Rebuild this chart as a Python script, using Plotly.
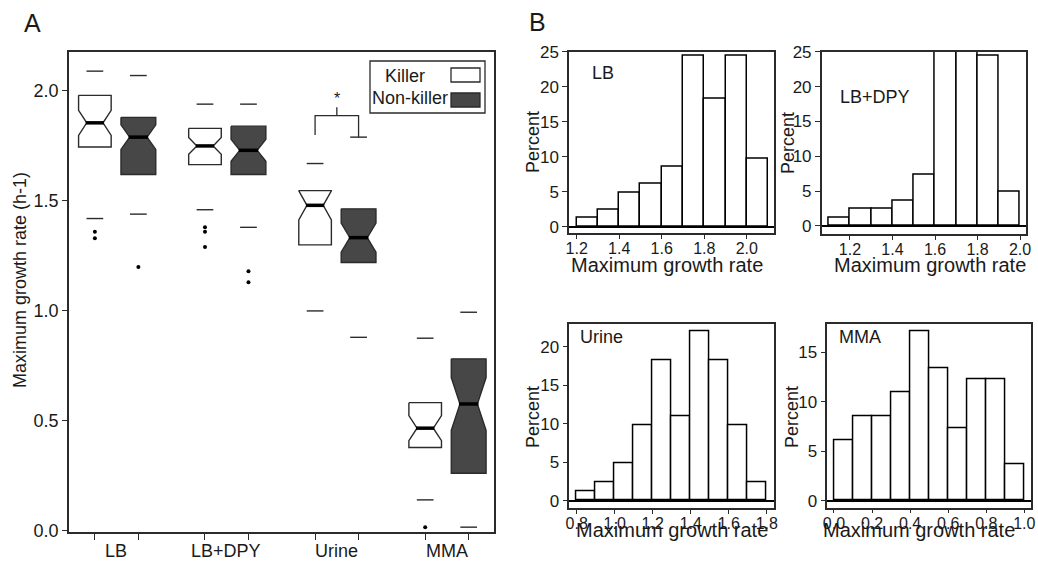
import plotly.graph_objects as go

# ---------------- Panel A data (notched box plots) ----------------
conditions = ["LB", "LB+DPY", "Urine", "MMA"]

killer_upper = [2.09, 1.94, 1.67, 0.876]
killer_q3 = [1.98, 1.83, 1.547, 0.583]
killer_median = [1.855, 1.75, 1.48, 0.467]
killer_q1 = [1.745, 1.665, 1.30, 0.379]
killer_lower = [1.42, 1.46, 1.00, 0.141]
killer_notch = [0.057, 0.038, 0.066, 0.057]
killer_outliers = [[1.36, 1.33], [1.38, 1.36, 1.29], [], [0.017]]

nonkiller_upper = [2.07, 1.94, 1.79, 0.994]
nonkiller_q3 = [1.88, 1.84, 1.464, 0.782]
nonkiller_median = [1.79, 1.73, 1.333, 0.577]
nonkiller_q1 = [1.62, 1.62, 1.22, 0.262]
nonkiller_lower = [1.44, 1.38, 0.88, 0.017]
nonkiller_notch = [0.056, 0.05, 0.066, 0.12]
nonkiller_outliers = [[1.20], [1.18, 1.13], [], []]

# significance bracket (Urine)
bracket_group = "Urine"
bracket_top = 1.888
bracket_left_end = 1.80
bracket_right_end = 1.79
bracket_tick_top = 1.926
bracket_star_y = 1.965

# ---------------- Panel B data (histograms, percent) ----------------
lb_bins = [1.2, 1.3, 1.4, 1.5, 1.6, 1.7, 1.8, 1.9, 2.0]
lb_pct = [1.22, 2.44, 4.88, 6.10, 8.54, 24.39, 18.29, 24.39, 9.76]

lbdpy_bins = [1.1, 1.2, 1.3, 1.4, 1.5, 1.6, 1.7, 1.8, 1.9]
lbdpy_pct = [1.22, 2.44, 2.44, 3.66, 7.32, 26.83, 26.83, 24.39, 4.88]

urine_bins = [0.8, 0.9, 1.0, 1.1, 1.2, 1.3, 1.4, 1.5, 1.6, 1.7]
urine_pct = [1.22, 2.44, 4.88, 9.76, 18.29, 10.98, 21.95, 18.29, 9.76, 2.44]

mma_bins = [0.0, 0.1, 0.2, 0.3, 0.4, 0.5, 0.6, 0.7, 0.8, 0.9]
mma_pct = [6.10, 8.54, 8.54, 10.98, 17.07, 13.41, 7.32, 12.20, 12.20, 3.66]
bin_width = 0.1

FONT = "Liberation Sans, Arial, sans-serif"
TXT = "#1a1a1a"
LINE = "#2b2b2b"
DARK = "#474747"

fig = go.Figure()

K_OFF, NK_OFF = -0.195, 0.2
K_HW, NK_HW = 0.148, 0.158


def notched_box(c, hw, q1, med, q3, nspan, fill):
    nhi = min(med + nspan, q3)
    nlo = max(med - nspan, q1)
    wn = hw * 0.5
    xs = [c - hw, c + hw, c + hw, c + wn, c + hw, c + hw, c - hw, c - hw, c - wn, c - hw, c - hw]
    ys = [q3, q3, nhi, med, nlo, q1, q1, nlo, med, nhi, q3]
    fig.add_trace(go.Scatter(x=xs, y=ys, mode="lines", fill="toself", fillcolor=fill,
                             line=dict(color=LINE, width=1.4), hoverinfo="skip",
                             showlegend=False, xaxis="x", yaxis="y"))
    fig.add_trace(go.Scatter(x=[c - wn * 1.12, c + wn * 1.12], y=[med, med], mode="lines",
                             line=dict(color="black", width=3.5), hoverinfo="skip",
                             showlegend=False, xaxis="x", yaxis="y"))


cap_x, cap_y, out_x, out_y = [], [], [], []
tickpos = []
groups = [
    (K_OFF, K_HW, "white", killer_upper, killer_q3, killer_median, killer_q1, killer_lower,
     killer_notch, killer_outliers),
    (NK_OFF, NK_HW, DARK, nonkiller_upper, nonkiller_q3, nonkiller_median, nonkiller_q1,
     nonkiller_lower, nonkiller_notch, nonkiller_outliers),
]
for i, cond in enumerate(conditions):
    for off, hw, fill, up, q3, med, q1, lo, nt, outs in groups:
        c = i + 1 + off
        tickpos.append(c)
        notched_box(c, hw, q1[i], med[i], q3[i], nt[i], fill)
        cw = 0.076
        for v in (up[i], lo[i]):
            cap_x += [c - cw, c + cw, None]
            cap_y += [v, v, None]
        for v in outs[i]:
            out_x.append(c)
            out_y.append(v)

fig.add_trace(go.Scatter(x=cap_x, y=cap_y, mode="lines", line=dict(color=LINE, width=1.4),
                         hoverinfo="skip", showlegend=False, xaxis="x", yaxis="y"))
fig.add_trace(go.Scatter(x=out_x, y=out_y, mode="markers", marker=dict(color="black", size=4),
                         hoverinfo="skip", showlegend=False, xaxis="x", yaxis="y"))

# bracket
bi = conditions.index(bracket_group) + 1
bl, br = bi + K_OFF, bi + NK_OFF
bm = (bl + br) / 2
fig.add_trace(go.Scatter(x=[bl, bl, br, br, None, bm, bm],
                         y=[bracket_left_end, bracket_top, bracket_top, bracket_right_end, None,
                            bracket_top, bracket_tick_top],
                         mode="lines", line=dict(color=LINE, width=1.3), hoverinfo="skip",
                         showlegend=False, xaxis="x", yaxis="y"))


def W(px):
    return px / 1038


def H(py):
    return 1 - py / 562


def txt(text, x, y, size=18, xref="paper", yref="paper", angle=0, xanchor="center"):
    return dict(text=text, x=x, y=y, xref=xref, yref=yref, showarrow=False, textangle=angle,
                xanchor=xanchor, yanchor="middle", font=dict(size=size, color=TXT, family=FONT))


annotations = [txt("*", bm, bracket_star_y, size=16, xref="x", yref="y")]
for i, cond in enumerate(conditions):
    annotations.append(txt(cond, i + 1, H(551), xref="x"))

# histograms
hists = [
    ("x2", "y2", lb_bins, lb_pct, "LB", 1.263, 22.0),
    ("x3", "y3", lbdpy_bins, lbdpy_pct, "LB+DPY", 1.145, 18.55),
    ("x4", "y4", urine_bins, urine_pct, "Urine", 0.808, 21.2),
    ("x5", "y5", mma_bins, mma_pct, "MMA", 0.014, 16.5),
]
for xa, ya, bins, pct, label, lx, ly in hists:
    fig.add_trace(go.Bar(x=bins, y=pct, width=bin_width, offset=0, xaxis=xa, yaxis=ya,
                         marker=dict(color="white", line=dict(color="black", width=1.5)),
                         hoverinfo="skip", showlegend=False))
    annotations.append(txt(label, lx, ly, xref=xa, yref=ya, xanchor="left"))

# titles & panel letters
annotations += [
    txt("A", W(32), H(23), size=25),
    txt("B", W(538), H(22), size=25),
    txt("Maximum growth rate (h-1)", W(20), H(280), size=18, angle=-90),
]
for px, py in [(667, 265), (930, 265), (672, 530), (919, 530)]:
    annotations.append(txt("Maximum growth rate", W(px), H(py), size=20))
for px, py in [(533, 142), (788, 143), (533, 417), (792, 417)]:
    annotations.append(txt("Percent", W(px), H(py), angle=-90))

# legend (manual, swatch right of label)
annotations += [
    txt("Killer", W(405), H(76)),
    txt("Non-killer", W(410), H(98)),
]
shapes = [
    dict(type="rect", xref="paper", yref="paper", x0=W(370), x1=W(485), y0=H(113), y1=H(61),
         line=dict(color=LINE, width=1.3), fillcolor="white"),
    dict(type="rect", xref="paper", yref="paper", x0=W(451), x1=W(480), y0=H(82), y1=H(68),
         line=dict(color=LINE, width=1.3), fillcolor="white"),
    dict(type="rect", xref="paper", yref="paper", x0=W(451), x1=W(480), y0=H(107), y1=H(93),
         line=dict(color=LINE, width=1.3), fillcolor=DARK),
]


def axis(domain, rng, **kw):
    d = dict(domain=domain, range=rng, showline=True, mirror=True, linecolor=LINE,
             linewidth=1.5, showgrid=False, zeroline=False, ticks="outside", ticklen=5,
             tickcolor=LINE, tickwidth=1.3, automargin=False,
             tickfont=dict(size=17, color=TXT, family=FONT))
    d.update(kw)
    return d


def hx(domain, rng, vals, anchor):
    return axis(domain, rng, tickvals=vals, tickformat=".1f", anchor=anchor, ticklen=4,
                ticklabelstandoff=-4, tickfont=dict(size=16, color=TXT, family=FONT))


def hy(domain, rng, vals, anchor):
    return axis(domain, rng, tickvals=vals, anchor=anchor, zeroline=True,
                zerolinecolor="black", zerolinewidth=1.5)


layout = dict(
    width=1038, height=562, margin=dict(l=0, r=0, t=0, b=0, autoexpand=False),
    paper_bgcolor="white", plot_bgcolor="white", showlegend=False,
    annotations=annotations, shapes=shapes, bargap=0,
    xaxis=axis([W(69), W(494)], [0.57, 4.43], tickvals=tickpos, ticktext=[""] * len(tickpos),
               ticklen=6),
    yaxis=axis([H(532), H(52)], [-0.005, 2.177], tickvals=[0, 0.5, 1.0, 1.5, 2.0],
               tickformat=".1f", tickfont=dict(size=18, color=TXT, family=FONT)),
    xaxis2=hx([W(569), W(774)], [1.164, 2.128], [1.2, 1.4, 1.6, 1.8, 2.0], "y2"),
    yaxis2=hy([H(233.3), H(51.7)], [-0.95, 25], [0, 5, 10, 15, 20, 25], "x2"),
    xaxis3=hx([W(821.7), W(1026)], [1.067, 2.028], [1.2, 1.4, 1.6, 1.8, 2.0], "y3"),
    yaxis3=hy([H(234), H(51.7)], [-1.15, 25], [0, 5, 10, 15, 20, 25], "x3"),
    xaxis4=hx([W(569.3), W(774)], [0.761, 1.838], [0.8, 1.0, 1.2, 1.4, 1.6, 1.8], "y4"),
    yaxis4=hy([H(508.3), H(324.3)], [-0.99, 22.9], [0, 5, 10, 15, 20], "x4"),
    xaxis5=hx([W(827.3), W(1031)], [-0.035, 1.035], [0.0, 0.2, 0.4, 0.6, 0.8, 1.0], "y5"),
    yaxis5=hy([H(507.7), H(324.3)], [-0.71, 17.8], [0, 5, 10, 15], "x5"),
)
fig.update_layout(**layout)
fig.write_html("out.html")
